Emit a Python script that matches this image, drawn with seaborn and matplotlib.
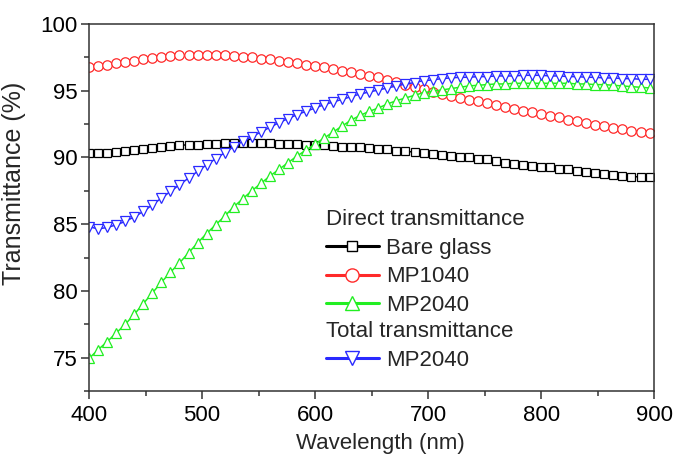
import numpy as np
import matplotlib
matplotlib.use("Agg")
import matplotlib.pyplot as plt
from matplotlib.lines import Line2D
from matplotlib.ticker import MultipleLocator
import seaborn as sns

wavelength = list(range(400, 897, 8))

bare_glass = [90.35, 90.35, 90.35, 90.4, 90.45, 90.55, 90.65, 90.7, 90.8, 90.85,
              90.9, 90.95, 90.95, 91.0, 91.0, 91.05, 91.05, 91.05, 91.05, 91.05,
              91.05, 91.0, 91.0, 91.0, 90.95, 90.9, 90.9, 90.85, 90.8, 90.8,
              90.75, 90.7, 90.65, 90.6, 90.5, 90.45, 90.4, 90.3, 90.25, 90.2,
              90.1, 90.05, 90.0, 89.9, 89.85, 89.7, 89.6, 89.5, 89.4, 89.35,
              89.3, 89.25, 89.15, 89.1, 89.0, 88.9, 88.8, 88.75, 88.65, 88.6,
              88.55, 88.55, 88.5]

mp1040 = [96.75, 96.85, 96.95, 97.05, 97.15, 97.25, 97.35, 97.45, 97.55, 97.6,
          97.65, 97.7, 97.7, 97.7, 97.7, 97.65, 97.6, 97.55, 97.5, 97.4,
          97.35, 97.25, 97.15, 97.05, 96.95, 96.85, 96.75, 96.65, 96.5, 96.4,
          96.25, 96.1, 96.0, 95.8, 95.65, 95.45, 95.3, 95.1, 94.9, 94.75,
          94.6, 94.45, 94.3, 94.2, 94.1, 93.95, 93.8, 93.65, 93.5, 93.4,
          93.25, 93.1, 93.0, 92.8, 92.7, 92.6, 92.45, 92.35, 92.2, 92.1,
          92.0, 91.9, 91.8]

mp2040_direct = [74.95, 75.6, 76.2, 76.85, 77.5, 78.25, 79.05, 79.85, 80.65, 81.4,
                 82.1, 82.85, 83.6, 84.3, 84.95, 85.6, 86.3, 86.9, 87.5, 88.05,
                 88.6, 89.1, 89.6, 90.1, 90.55, 91.0, 91.45, 91.9, 92.35, 92.8,
                 93.15, 93.45, 93.7, 94.0, 94.25, 94.45, 94.65, 94.85, 94.95, 95.05,
                 95.15, 95.25, 95.35, 95.4, 95.45, 95.5, 95.5, 95.55, 95.55, 95.55,
                 95.55, 95.55, 95.55, 95.55, 95.5, 95.5, 95.45, 95.45, 95.4, 95.35,
                 95.3, 95.25, 95.2]

mp2040_total = [84.8, 84.65, 84.75, 84.95, 85.2, 85.55, 85.95, 86.45, 86.95, 87.45,
                87.95, 88.45, 88.95, 89.45, 89.9, 90.35, 90.8, 91.2, 91.55, 91.9,
                92.25, 92.6, 92.9, 93.2, 93.45, 93.7, 93.95, 94.15, 94.35, 94.55,
                94.75, 94.9, 95.05, 95.2, 95.35, 95.5, 95.6, 95.75, 95.8, 95.9,
                95.95, 96.0, 96.0, 96.05, 96.05, 96.1, 96.1, 96.1, 96.15, 96.15,
                96.15, 96.1, 96.1, 96.05, 96.05, 96.0, 96.0, 95.95, 95.95, 95.9,
                95.9, 95.85, 95.85]

series_labels = ["Bare glass", "MP1040", "MP2040", "MP2040"]
group_titles = ["Direct transmittance", "Total transmittance"]

sns.set_theme(style="ticks")
plt.rcParams["font.family"] = ["Liberation Sans", "DejaVu Sans"]

fig = plt.figure(figsize=(6.75, 4.59), dpi=100)
ax = fig.add_axes([0.132, 0.148, 0.837, 0.800])

styles = [
    (bare_glass, "black", "s", 6.0),
    (mp1040, "#ff2a2a", "o", 6.8),
    (mp2040_direct, "#22ee22", "^", 7.5),
    (mp2040_total, "#2a2aff", "v", 7.5),
]
for vals, col, mk, ms in styles:
    sns.lineplot(x=wavelength, y=vals, ax=ax, color=col, marker=mk,
                 markersize=ms, markerfacecolor="white", markeredgecolor=col,
                 markeredgewidth=0.9, linewidth=1.1, legend=False)

ax.set_xlim(400, 900)
ax.set_ylim(72.5, 100)
ax.xaxis.set_major_locator(MultipleLocator(100))
ax.xaxis.set_minor_locator(MultipleLocator(50))
ax.yaxis.set_major_locator(MultipleLocator(5))
ax.yaxis.set_minor_locator(MultipleLocator(2.5))
for s in ax.spines.values():
    s.set_visible(True)
    s.set_linewidth(1.1)
    s.set_color("#333333")
ax.tick_params(which="both", direction="out", top=False, right=False,
               colors="#333333", labelcolor="black", width=1.1)
ax.tick_params(which="major", length=6, labelsize=16, pad=2.5)
ax.tick_params(axis="x", which="major", pad=4)
ax.tick_params(which="minor", length=3.5)

ax.set_xlabel("Wavelength (nm)", fontsize=16)
ax.set_ylabel("Transmittance (%)", fontsize=18)
ax.xaxis.set_label_coords(0.515, -0.115)
ax.yaxis.set_label_coords(-0.112, 0.565)

def handle(col, mk, ms):
    return Line2D([], [], color=col, marker=mk, markersize=ms,
                  markerfacecolor="white", markeredgecolor=col,
                  markeredgewidth=1.0, linewidth=2.2)

h_direct = [handle("black", "s", 7.5), handle("#ff2a2a", "o", 9.5),
            handle("#22ee22", "^", 10)]
h_total = [handle("#2a2aff", "v", 10)]

common = dict(frameon=False, fontsize=16, title_fontsize=16, handlelength=2.4,
              handletextpad=0.33, labelspacing=0.34, borderpad=0,
              borderaxespad=0, loc="upper left", alignment="left")
leg1 = ax.legend(h_direct, series_labels[:3], title=group_titles[0],
                 bbox_to_anchor=(0.419, 0.495), **common)
ax.add_artist(leg1)
leg2 = ax.legend(h_total, series_labels[3:], title=group_titles[1],
                 bbox_to_anchor=(0.419, 0.190), **common)

fig.savefig("out.png", dpi=100)
